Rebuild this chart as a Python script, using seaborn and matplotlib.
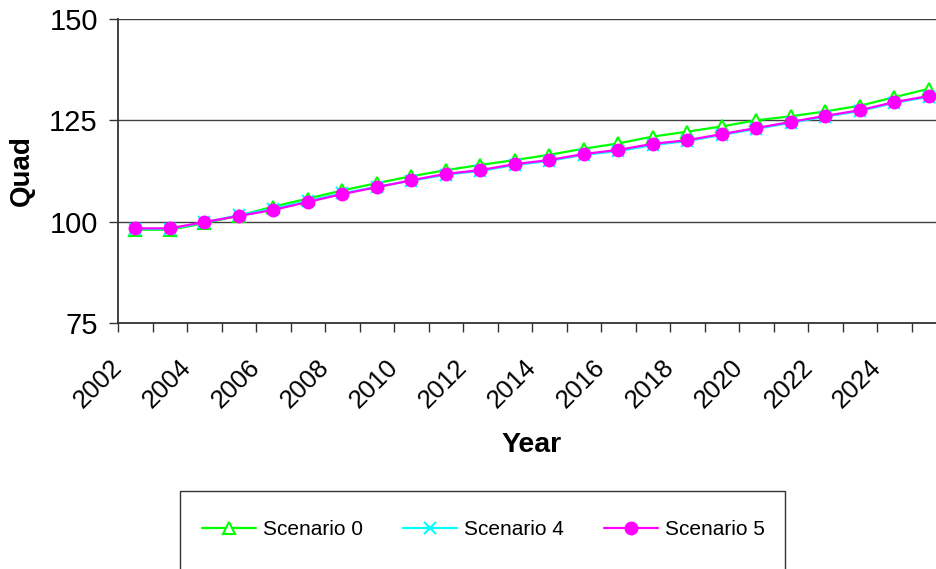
import numpy as np
import pandas as pd
import matplotlib
matplotlib.use("Agg")
import matplotlib.pyplot as plt
import matplotlib.patches as mpatches
from matplotlib.transforms import ScaledTranslation
import seaborn as sns

years = list(range(2002, 2026))
scenario0 = [98.0, 98.0, 99.6, 101.5, 103.7, 105.7, 107.7, 109.5, 111.2, 112.7,
             114.0, 115.2, 116.5, 118.0, 119.3, 121.0, 122.2, 123.5, 125.0, 126.0,
             127.2, 128.6, 130.7, 132.8]
scenario4 = [98.2, 98.2, 99.8, 101.6, 103.2, 105.1, 107.0, 108.6, 110.1, 111.6,
             112.5, 114.0, 115.0, 116.5, 117.4, 118.9, 119.9, 121.4, 122.9, 124.4,
             125.9, 127.3, 129.3, 130.8]
scenario5 = [98.35, 98.35, 99.9, 101.4, 102.9, 104.85, 106.8, 108.5, 110.2, 111.8,
             112.7, 114.2, 115.2, 116.7, 117.7, 119.2, 120.1, 121.6, 123.1, 124.6,
             126.1, 127.5, 129.5, 131.0]
names = ["Scenario 0", "Scenario 4", "Scenario 5"]
y_ticks = [75, 100, 125, 150]

sns.set_theme(style="white")
plt.rcParams['font.family'] = ['Liberation Sans', 'DejaVu Sans']
plt.rcParams['text.color'] = 'black'
plt.rcParams['axes.labelcolor'] = 'black'
plt.rcParams['xtick.color'] = 'black'
plt.rcParams['ytick.color'] = 'black'

fig = plt.figure(figsize=(9.36, 5.69), dpi=100)
W, H = 936, 569
ax = fig.add_axes([118 / W, (H - 323) / H, 828 / W, 304 / H])

styles = [
    dict(color="#00FF00", marker="^", markerfacecolor="white", markeredgecolor="#00FF00",
         markersize=9, markeredgewidth=1.5),
    dict(color="#00FFFF", marker="x", markeredgecolor="#00FFFF",
         markersize=8, markeredgewidth=1.5),
    dict(color="#FF00FF", marker="o", markerfacecolor="#FF00FF", markeredgecolor="#FF00FF",
         markersize=9, markeredgewidth=1),
]
series = [scenario0, scenario4, scenario5]
for name, vals, st in zip(names, series, styles):
    df = pd.DataFrame({"Year": years, "Quad": vals})
    sns.lineplot(data=df, x="Year", y="Quad", ax=ax, legend=False, linewidth=1.6,
                 clip_on=False, **st)

ax.set_xlim(years[0] - 0.5, years[-1] + 0.5)
ax.set_ylim(75, 150)
ax.set_yticks(y_ticks)
ax.yaxis.grid(True, color="#404040", linewidth=1)
ax.set_axisbelow(True)

ax.set_xticks(years[::2])
ax.set_xticklabels([str(y) for y in years[::2]], rotation=45, ha="right",
                   rotation_mode="anchor", fontsize=18.5)
bounds = [y - 0.5 for y in years] + [years[-1] + 0.5]
ax.set_xticks(bounds, minor=True)
ax.tick_params(axis="x", which="major", length=0, pad=14)
ax.tick_params(axis="x", which="minor", length=6.5, width=1, color="#333333",
               direction="out", bottom=True)
ax.tick_params(axis="y", which="major", length=6.5, width=1, color="#333333",
               direction="out", left=True, labelsize=21, pad=8)
offset = ScaledTranslation(-25 / 100, -13 / 100, fig.dpi_scale_trans)
for lbl in ax.get_xticklabels():
    lbl.set_transform(lbl.get_transform() + offset)

for s in ["top", "right"]:
    ax.spines[s].set_visible(False)
for s in ["left", "bottom"]:
    ax.spines[s].set_color("#333333")
    ax.spines[s].set_linewidth(1.3)

ax.set_xlabel("")
ax.set_ylabel("Quad", fontsize=20, fontweight="bold", labelpad=10)
fig.text(532 / W, 1 - 445 / H, "Year", ha="center", va="center",
         fontsize=20.5, fontweight="bold")

handles = ax.get_lines()[:3]
fig.legend(handles, names, loc="upper left", bbox_to_anchor=(202 / W, 1 - 520 / H),
           frameon=False, ncol=3, fontsize=15, handlelength=2.6,
           handletextpad=0.35, columnspacing=1.9, borderpad=0, borderaxespad=0)
rect = mpatches.Rectangle((180 / W, -0.1), 605 / W, 0.1 + (H - 491) / H,
                          transform=fig.transFigure, fill=False,
                          edgecolor="#333333", linewidth=1, clip_on=False)
fig.add_artist(rect)

fig.savefig("out.png", dpi=100)
